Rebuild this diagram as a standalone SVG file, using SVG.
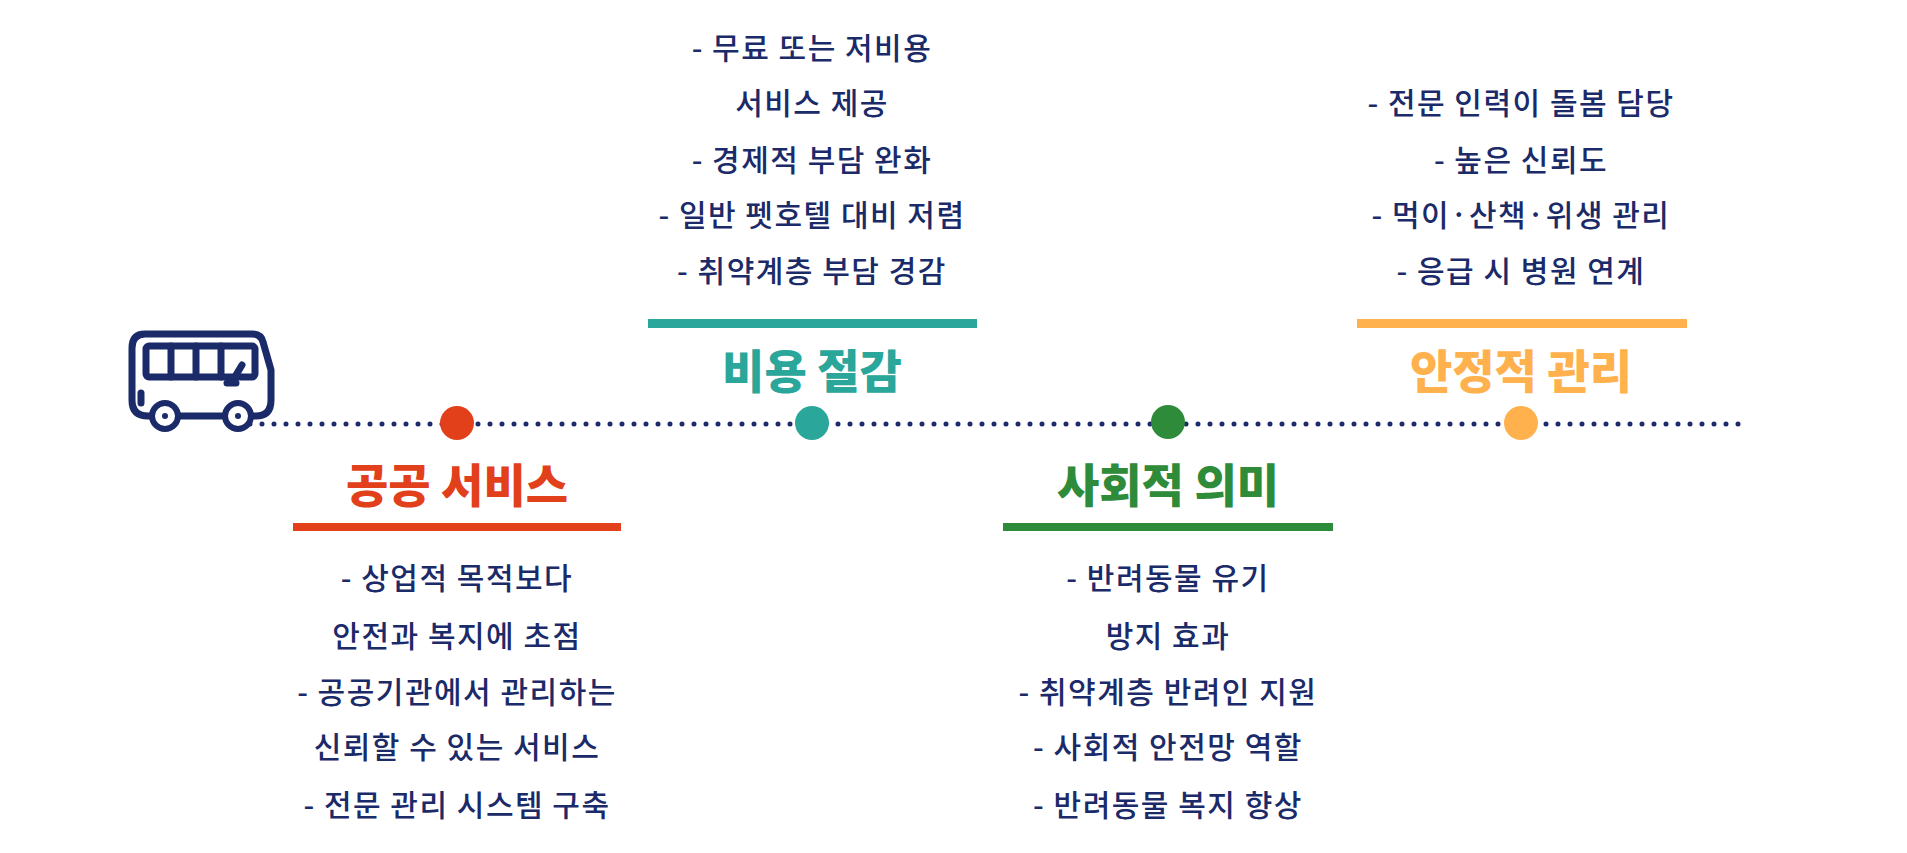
<svg xmlns="http://www.w3.org/2000/svg" width="1907" height="853" viewBox="0 0 1907 853">
<style>
.t{font-family:"Noto Sans CJK KR","Noto Sans",sans-serif;font-size:30px;font-weight:500;letter-spacing:1.5px;fill:#1b2a68;text-anchor:middle;dominant-baseline:central}
.h{font-family:"Noto Sans CJK KR","Noto Sans",sans-serif;font-size:46px;font-weight:900;text-anchor:middle;dominant-baseline:central}
.bus{fill:none;stroke:#1b2a68;stroke-width:7;stroke-linecap:round;stroke-linejoin:round}
</style>
<rect width="1907" height="853" fill="#fff"/>
<g id="connectors">
<line x1="250" y1="424" x2="1741" y2="424" stroke="#1b2a68" stroke-width="5" stroke-linecap="round" stroke-dasharray="0 12"/>
</g>
<g id="bus">
<path class="bus" d="M145 334 H252 Q261 334 263 342 L271 370 V400 Q271 416 256 416 H148 Q132 416 132 400 V348 Q132 334 145 334 Z"/>
<rect class="bus" x="146" y="346" width="109" height="31" rx="3" stroke-width="5"/>
<path class="bus" stroke-width="5" d="M171 346 V377 M196 346 V377 M221 346 V377 M236 375 L242 365"/>
<path class="bus" stroke-width="5" d="M227 383 H236 M141 393 V403"/>
<circle cx="165" cy="416" r="13" fill="#fff" stroke="#1b2a68" stroke-width="6"/>
<circle cx="165" cy="416" r="3" fill="#1b2a68"/>
<circle cx="238" cy="416" r="13" fill="#fff" stroke="#1b2a68" stroke-width="6"/>
<circle cx="238" cy="416" r="3" fill="#1b2a68"/>
</g>
<g id="node-public">
<circle cx="457" cy="423" r="17" fill="#e2401b"/>
<text class="h" x="457" y="482" fill="#e2401b">공공 서비스</text>
<rect x="293" y="523" width="328" height="8" fill="#e2401b"/>
<text class="t" x="457" y="576">- 상업적 목적보다</text>
<text class="t" x="457" y="634">안전과 복지에 초점</text>
<text class="t" x="457" y="690">- 공공기관에서 관리하는</text>
<text class="t" x="457" y="745">신뢰할 수 있는 서비스</text>
<text class="t" x="457" y="803">- 전문 관리 시스템 구축</text>
</g>
<g id="node-cost">
<circle cx="812" cy="423" r="17" fill="#2aa69a"/>
<text class="t" x="812" y="46">- 무료 또는 저비용</text>
<text class="t" x="812" y="101">서비스 제공</text>
<text class="t" x="812" y="158">- 경제적 부담 완화</text>
<text class="t" x="812" y="213">- 일반 펫호텔 대비 저렴</text>
<text class="t" x="812" y="269">- 취약계층 부담 경감</text>
<rect x="648" y="319" width="329" height="9" fill="#2aa69a"/>
<text class="h" x="812" y="368" fill="#2aa69a">비용 절감</text>
</g>
<g id="node-social">
<circle cx="1168" cy="422" r="17" fill="#2e8b3a"/>
<text class="h" x="1168" y="482" fill="#2e8b3a">사회적 의미</text>
<rect x="1003" y="523" width="330" height="8" fill="#2e8b3a"/>
<text class="t" x="1168" y="576">- 반려동물 유기</text>
<text class="t" x="1168" y="634">방지 효과</text>
<text class="t" x="1168" y="690">- 취약계층 반려인 지원</text>
<text class="t" x="1168" y="745">- 사회적 안전망 역할</text>
<text class="t" x="1168" y="803">- 반려동물 복지 향상</text>
</g>
<g id="node-manage">
<circle cx="1521" cy="423" r="17" fill="#ffb14e"/>
<text class="t" x="1521" y="101">- 전문 인력이 돌봄 담당</text>
<text class="t" x="1521" y="158">- 높은 신뢰도</text>
<text class="t" x="1521" y="213">- 먹이·산책·위생 관리</text>
<text class="t" x="1521" y="269">- 응급 시 병원 연계</text>
<rect x="1357" y="319" width="330" height="9" fill="#ffb14e"/>
<text class="h" x="1521" y="368" fill="#ffb14e">안정적 관리</text>
</g>
</svg>
